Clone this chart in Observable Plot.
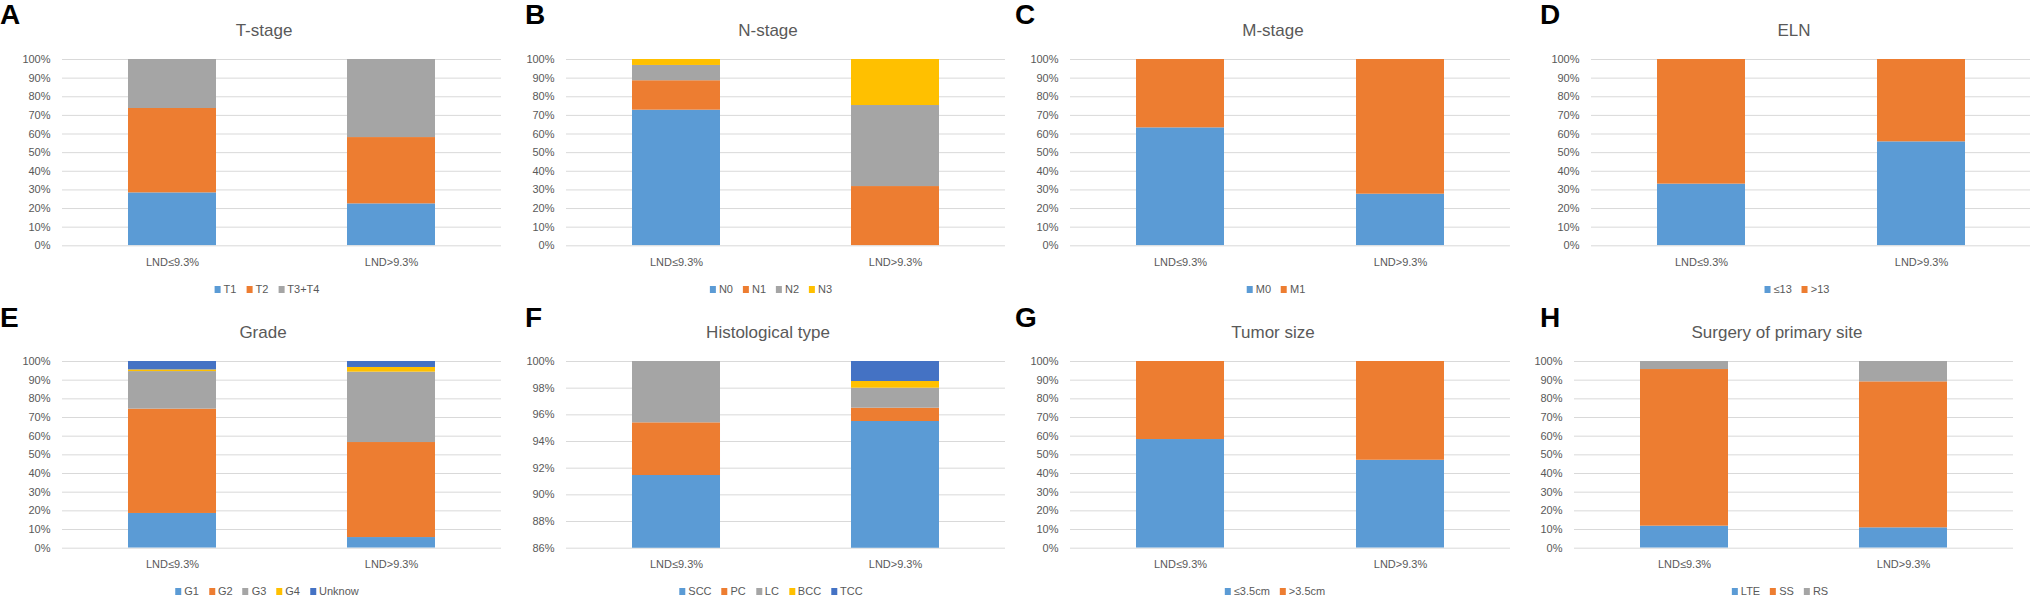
<!DOCTYPE html>
<html>
<head>
<meta charset="utf-8">
<script src="https://cdn.jsdelivr.net/npm/d3@7"></script>
<script src="https://cdn.jsdelivr.net/npm/@observablehq/plot@0.6"></script>
<style>
  html, body { margin: 0; padding: 0; background: #fff; }
  #root { position: relative; width: 2030px; height: 596px; overflow: hidden; background: #fff;
          font-family: "Liberation Sans", Arial, sans-serif; color: #595959; }
  .abs { position: absolute; white-space: nowrap; }
  .letter { font-size: 28px; line-height: 28px; font-weight: bold; color: #000; }
  .title { font-size: 17px; line-height: 17px; transform: translateX(-50%); }
  .legend { font-size: 11px; line-height: 11px; transform: translateX(-50%); display: flex; align-items: center; }
  .legend .item { display: flex; align-items: center; margin: 0 5px; }
  .legend .sw { width: 6px; height: 7px; margin-right: 3px; }
</style>
</head>
<body>
<div id="root"></div>
<script>
// ---------- data ----------
const groups = ["LND≤9.3%", "LND>9.3%"];

const blue = "#5B9BD5", orange = "#ED7D31", gray = "#A5A5A5", gold = "#FFC000", navy = "#4472C4";

const tStageKeys = ["T1", "T2", "T3+T4"];
const tStageLow  = [28.4, 45.3, 26.3];
const tStageHigh = [22.5, 35.6, 41.9];

const nStageKeys = ["N0", "N1", "N2", "N3"];
const nStageLow  = [72.8, 15.8, 8.2, 3.2];
const nStageHigh = [0, 31.8, 43.5, 24.7];

const mStageKeys = ["M0", "M1"];
const mStageLow  = [63.3, 36.7];
const mStageHigh = [27.7, 72.3];

const elnKeys = ["≤13", ">13"];
const elnLow  = [33.1, 66.9];
const elnHigh = [55.8, 44.2];

const gradeKeys = ["G1", "G2", "G3", "G4", "Unknow"];
const gradeLow  = [18.6, 55.9, 20.1, 0.9, 4.5];
const gradeHigh = [5.7, 50.9, 37.7, 2.5, 3.2];

const histKeys = ["SCC", "PC", "LC", "BCC", "TCC"];
const histLow  = [91.45, 3.95, 4.6, 0, 0];
const histHigh = [95.5, 1.0, 1.5, 0.5, 1.5];

const sizeKeys = ["≤3.5cm", ">3.5cm"];
const sizeLow  = [58.2, 41.8];
const sizeHigh = [47.1, 52.9];

const surgKeys = ["LTE", "SS", "RS"];
const surgLow  = [11.8, 83.9, 4.3];
const surgHigh = [10.9, 78.2, 10.9];

const ticks100 = [0, 10, 20, 30, 40, 50, 60, 70, 80, 90, 100];
const ticksHist = [86, 88, 90, 92, 94, 96, 98, 100];

// ---------- layout ----------
const root = document.getElementById("root");
const rowsY = [{ top: 58.7, bottom: 245, letterTop: 1.3, titleTop: 21.8, legendTop: 283.6 },
               { top: 361.3, bottom: 548, letterTop: 304.3, titleTop: 324.1, legendTop: 585.9 }];

function addDiv(cls, left, top, html) {
  const d = document.createElement("div");
  d.className = "abs " + cls;
  d.style.left = left + "px";
  d.style.top = top + "px";
  d.innerHTML = html;
  root.appendChild(d);
  return d;
}

function panel(p) {
  const r = rowsY[p.row];
  const mL = 45, mR = 2, mT = 5, mB = 30;
  const width = (p.gx1 - p.gx0) + mL + mR;
  const height = (r.bottom - r.top) + mT + mB;
  const data = [];
  p.keys.forEach((k, i) => {
    data.push({ group: groups[0], key: k, value: p.low[i] });
    data.push({ group: groups[1], key: k, value: p.high[i] });
  });
  const chart = Plot.plot({
    width, height,
    marginLeft: mL, marginRight: mR, marginTop: mT, marginBottom: mB,
    style: { fontFamily: "'Liberation Sans', Arial, sans-serif", fontSize: "11px", color: "#595959", background: "transparent", overflow: "visible" },
    x: { domain: groups, paddingInner: 0.6, paddingOuter: 0.3, label: null },
    y: { domain: p.yDomain, label: null },
    color: { domain: p.keys, range: p.colors },
    marks: [
      Plot.ruleY(p.yTicks, { stroke: "#d9d9d9", strokeWidth: 1 }),
      Plot.barY(data, { x: "group", y: "value", fill: "key", clip: true }),
      Plot.axisY(p.yTicks, { tickSize: 0, tickPadding: 12, tickFormat: d => d + "%", fill: "#595959" }),
      Plot.axisX({ tickSize: 0, tickPadding: 12, fill: "#595959" })
    ]
  });
  chart.style.position = "absolute";
  chart.style.left = (p.gx0 - mL) + "px";
  chart.style.top = (r.top - mT) + "px";
  root.appendChild(chart);

  addDiv("letter", p.letterX, r.letterTop, p.letter);
  addDiv("title", p.titleX, r.titleTop, p.title);
  const items = p.keys.map((k, i) =>
    `<span class="item"><span class="sw" style="background:${p.colors[i]}"></span>${k}</span>`).join("");
  addDiv("legend", p.legendX, r.legendTop, items);
}

panel({ letter: "A", title: "T-stage", keys: tStageKeys, colors: [blue, orange, gray],
        low: tStageLow, high: tStageHigh, row: 0, gx0: 62, gx1: 501,
        yDomain: [0, 100], yTicks: ticks100, letterX: 0, titleX: 264, legendX: 267 });
panel({ letter: "B", title: "N-stage", keys: nStageKeys, colors: [blue, orange, gray, gold],
        low: nStageLow, high: nStageHigh, row: 0, gx0: 566, gx1: 1005,
        yDomain: [0, 100], yTicks: ticks100, letterX: 525, titleX: 768, legendX: 771 });
panel({ letter: "C", title: "M-stage", keys: mStageKeys, colors: [blue, orange],
        low: mStageLow, high: mStageHigh, row: 0, gx0: 1070, gx1: 1510,
        yDomain: [0, 100], yTicks: ticks100, letterX: 1015, titleX: 1273, legendX: 1276 });
panel({ letter: "D", title: "ELN", keys: elnKeys, colors: [blue, orange],
        low: elnLow, high: elnHigh, row: 0, gx0: 1591, gx1: 2031,
        yDomain: [0, 100], yTicks: ticks100, letterX: 1540, titleX: 1794, legendX: 1797 });
panel({ letter: "E", title: "Grade", keys: gradeKeys, colors: [blue, orange, gray, gold, navy],
        low: gradeLow, high: gradeHigh, row: 1, gx0: 62, gx1: 501,
        yDomain: [0, 100], yTicks: ticks100, letterX: 0, titleX: 263, legendX: 267 });
panel({ letter: "F", title: "Histological type", keys: histKeys, colors: [blue, orange, gray, gold, navy],
        low: histLow, high: histHigh, row: 1, gx0: 566, gx1: 1005,
        yDomain: [86, 100], yTicks: ticksHist, letterX: 525, titleX: 768, legendX: 771 });
panel({ letter: "G", title: "Tumor size", keys: sizeKeys, colors: [blue, orange],
        low: sizeLow, high: sizeHigh, row: 1, gx0: 1070, gx1: 1510,
        yDomain: [0, 100], yTicks: ticks100, letterX: 1015, titleX: 1273, legendX: 1275 });
panel({ letter: "H", title: "Surgery of primary site", keys: surgKeys, colors: [blue, orange, gray],
        low: surgLow, high: surgHigh, row: 1, gx0: 1574, gx1: 2013,
        yDomain: [0, 100], yTicks: ticks100, letterX: 1540, titleX: 1777, legendX: 1780 });
</script>
</body>
</html>
